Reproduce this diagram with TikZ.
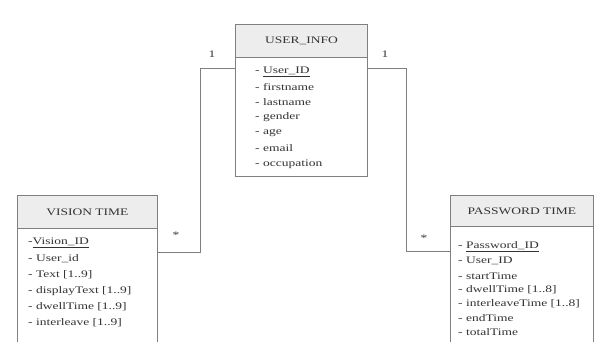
\documentclass[tikz,border=0pt]{standalone}
\usepackage{graphicx}
\usepackage{fontspec}
\setmainfont{Liberation Serif}
\newcommand{\wt}[1]{\scalebox{1.35}[1]{#1}}
\begin{document}
\begin{tikzpicture}[x=1pt,y=-1pt,
  box/.style={draw=black!50,line width=0.8pt,fill=white,anchor=north west,inner sep=0pt},
  hdr/.style={draw=black!50,line width=0.8pt,fill=black!7,anchor=north west,inner sep=0pt,font=\fontsize{10}{12}\selectfont,text=black!80},
  attr/.style={anchor=west,inner sep=0pt,font=\fontsize{10}{12}\selectfont,text=black!80},
  conn/.style={draw=black!50,line width=0.8pt},
  mult/.style={inner sep=0pt,font=\fontsize{10}{12}\selectfont,text=black!80}]
\useasboundingbox (0,0) rectangle (595,341);
\clip (0,0) rectangle (595,341);
% USER_INFO
\node[box,minimum width=132,minimum height=152] (user) at (235,24) {};
\node[hdr,minimum width=132,minimum height=33] (userh) at (235,24) {\wt{USER\_INFO}};
\node[attr] (u1) at (255,72) {\wt{- \underline{User\_ID}}};
\node[attr] (u2) at (255,87) {\wt{- firstname}};
\node[attr] (u3) at (255,102) {\wt{- lastname}};
\node[attr] (u4) at (255,117) {\wt{- gender}};
\node[attr] (u5) at (255,133) {\wt{- age}};
\node[attr] (u6) at (255,148) {\wt{- email}};
\node[attr] (u7) at (255,164) {\wt{- occupation}};
% VISION TIME
\node[box,minimum width=140,minimum height=170] (vis) at (17,195) {};
\node[hdr,minimum width=140,minimum height=33] (vish) at (17,195) {\wt{VISION TIME}};
\node[attr] (v1) at (28,243) {\wt{-\underline{Vision\_ID}}};
\node[attr] (v2) at (28,259) {\wt{- User\_id}};
\node[attr] (v3) at (28,275) {\wt{- Text [1..9]}};
\node[attr] (v4) at (28,291) {\wt{- displayText [1..9]}};
\node[attr] (v5) at (28,307) {\wt{- dwellTime [1..9]}};
\node[attr] (v6) at (28,323) {\wt{- interleave [1..9]}};
% PASSWORD TIME
\node[box,minimum width=143,minimum height=170] (pw) at (450,195) {};
\node[hdr,minimum width=143,minimum height=31] (pwh) at (450,195) {\wt{PASSWORD TIME}};
\node[attr] (p1) at (458,247) {\wt{- \underline{Password\_ID}}};
\node[attr] (p2) at (458,261) {\wt{- User\_ID}};
\node[attr] (p3) at (458,276) {\wt{- startTime}};
\node[attr] (p4) at (458,290) {\wt{- dwellTime [1..8]}};
\node[attr] (p5) at (458,304) {\wt{- interleaveTime [1..8]}};
\node[attr] (p6) at (458,318) {\wt{- endTime}};
\node[attr] (p7) at (458,332) {\wt{- totalTime}};
% connectors
\coordinate (ul) at (user.north west |- 0,68);
\coordinate (ur) at (user.north east |- 0,68);
\coordinate (vr) at (vis.north east |- 0,252);
\coordinate (pl) at (pw.north west |- 0,251);
\draw[conn] (ul) -- (200,68) |- (vr);
\draw[conn] (ur) -- (406,68) |- (pl);
\node[mult] (m1) at (212,54) {\wt{1}};
\node[mult] (m2) at (176,235) {\wt{*}};
\node[mult] (m3) at (385,54) {\wt{1}};
\node[mult] (m4) at (424,238) {\wt{*}};
\end{tikzpicture}
\end{document}
